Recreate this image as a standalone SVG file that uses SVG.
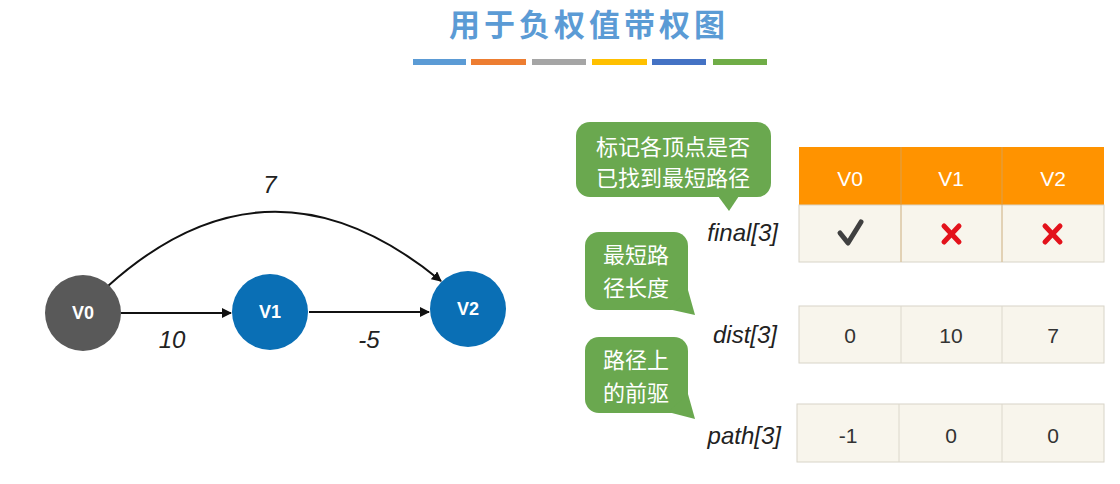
<svg xmlns="http://www.w3.org/2000/svg" width="1120" height="484" viewBox="0 0 1120 484">
<style>
.cjk{font-family:"Noto Sans CJK SC","Liberation Sans",sans-serif}
.lbl{font-family:"Liberation Sans",Arial,sans-serif;font-style:italic;font-size:24px;fill:#222}
.nt{font-family:"Liberation Sans",Arial,sans-serif;font-weight:bold;font-size:18px;fill:#fff;text-anchor:middle}
.cell{font-family:"Liberation Sans",Arial,sans-serif;font-size:21px;fill:#333;text-anchor:middle}
.hd{font-family:"Liberation Sans",Arial,sans-serif;font-size:21px;fill:#fff;text-anchor:middle}
.bub{fill:#6aa84f}
.bt{font-family:"Noto Sans CJK SC",sans-serif;font-size:22px;fill:#fff;text-anchor:middle}
.edge{stroke:#111;stroke-width:2;fill:none}
.grid{stroke:#dcd8cc;stroke-width:1}
.x{stroke:#e3121b;stroke-width:5;stroke-linecap:round}
</style>
<defs>
<marker id="arr" viewBox="0 0 10 10" refX="9" refY="5" markerWidth="5" markerHeight="5" orient="auto" markerUnits="strokeWidth">
<path d="M0,0 L10,5 L0,10 z" fill="#111"/>
</marker>
</defs>
<rect width="1120" height="484" fill="#fff"/>
<g id="title">
<text x="589" y="36" class="cjk" font-size="31" font-weight="bold" letter-spacing="4" fill="#5b9bd5" text-anchor="middle">用于负权值带权图</text>
<rect x="413" y="59" width="53" height="6" fill="#5b9bd5"/>
<rect x="471" y="59" width="55" height="6" fill="#ed7d31"/>
<rect x="532" y="59" width="54" height="6" fill="#a5a5a5"/>
<rect x="592" y="59" width="55" height="6" fill="#ffc000"/>
<rect x="652" y="59" width="54" height="6" fill="#4472c4"/>
<rect x="713" y="59" width="54" height="6" fill="#70ad47"/>
</g>
<g id="connectors">
<path class="edge" d="M121,313 L231,313" marker-end="url(#arr)"/>
<path class="edge" d="M309,312 L429,312" marker-end="url(#arr)"/>
<path class="edge" d="M108,286 Q270,140 441,281" marker-end="url(#arr)"/>
<text x="270" y="193" class="lbl" text-anchor="middle">7</text>
<text x="172" y="348" class="lbl" text-anchor="middle">10</text>
<text x="369" y="348" class="lbl" text-anchor="middle">-5</text>
</g>
<g id="V0"><circle cx="83" cy="313" r="38" fill="#595959"/><text x="83" y="319" class="nt">V0</text></g>
<g id="V1"><circle cx="270" cy="312" r="38" fill="#0a6fb5"/><text x="270" y="318" class="nt">V1</text></g>
<g id="V2"><circle cx="468" cy="309" r="38" fill="#0a6fb5"/><text x="468" y="315" class="nt">V2</text></g>
<g id="callout-final">
<rect class="bub" x="576" y="122" width="195" height="75" rx="14"/>
<polygon class="bub" points="718,196 729,211 739,196"/>
<text x="673" y="155" class="bt">标记各顶点是否</text>
<text x="673" y="186" class="bt">已找到最短路径</text>
</g>
<g id="callout-dist">
<rect class="bub" x="585" y="232" width="103" height="78" rx="14"/>
<polygon class="bub" points="668,309 695,315 688,290"/>
<text x="636" y="263" class="bt">最短路</text>
<text x="636" y="296" class="bt">径长度</text>
</g>
<g id="callout-path">
<rect class="bub" x="585" y="337" width="103" height="76" rx="14"/>
<polygon class="bub" points="668,412 695,419 688,394"/>
<text x="636" y="368" class="bt">路径上</text>
<text x="636" y="401" class="bt">的前驱</text>
</g>
<g id="labels">
<text x="778" y="241" class="lbl" text-anchor="end">final[3]</text>
<text x="777" y="343" class="lbl" text-anchor="end">dist[3]</text>
<text x="781" y="444" class="lbl" text-anchor="end">path[3]</text>
</g>
<g id="table-final">
<rect x="799" y="147" width="305" height="58" fill="#ff9300"/>
<rect x="799" y="205" width="305" height="57" fill="#f8f5ec" stroke="#d8d4c8"/>
<line x1="901" y1="147" x2="901" y2="262" stroke="#d9a050" stroke-width="1"/>
<line x1="1002" y1="147" x2="1002" y2="262" stroke="#d9a050" stroke-width="1"/>
<line class="grid" x1="901" y1="205" x2="901" y2="262"/>
<line class="grid" x1="1002" y1="205" x2="1002" y2="262"/>
<text x="850" y="186" class="hd">V0</text>
<text x="951" y="186" class="hd">V1</text>
<text x="1053" y="186" class="hd">V2</text>
<path d="M840,233 L848,243 L861,222" fill="none" stroke="#404040" stroke-width="5" stroke-linecap="round" stroke-linejoin="round"/>
<line class="x" x1="944" y1="226" x2="959" y2="242"/><line class="x" x1="959" y1="226" x2="944" y2="242"/>
<line class="x" x1="1045" y1="226" x2="1060" y2="242"/><line class="x" x1="1060" y1="226" x2="1045" y2="242"/>
</g>
<g id="table-dist">
<rect x="799" y="306" width="305" height="57" fill="#f8f5ec" stroke="#d8d4c8"/>
<line class="grid" x1="901" y1="306" x2="901" y2="363"/>
<line class="grid" x1="1002" y1="306" x2="1002" y2="363"/>
<text x="850" y="343" class="cell">0</text>
<text x="951" y="343" class="cell">10</text>
<text x="1053" y="343" class="cell">7</text>
</g>
<g id="table-path">
<rect x="797" y="404" width="307" height="58" fill="#f8f5ec" stroke="#d8d4c8"/>
<line class="grid" x1="899" y1="404" x2="899" y2="462"/>
<line class="grid" x1="1002" y1="404" x2="1002" y2="462"/>
<text x="848" y="443" class="cell">-1</text>
<text x="951" y="443" class="cell">0</text>
<text x="1053" y="443" class="cell">0</text>
</g>
</svg>
